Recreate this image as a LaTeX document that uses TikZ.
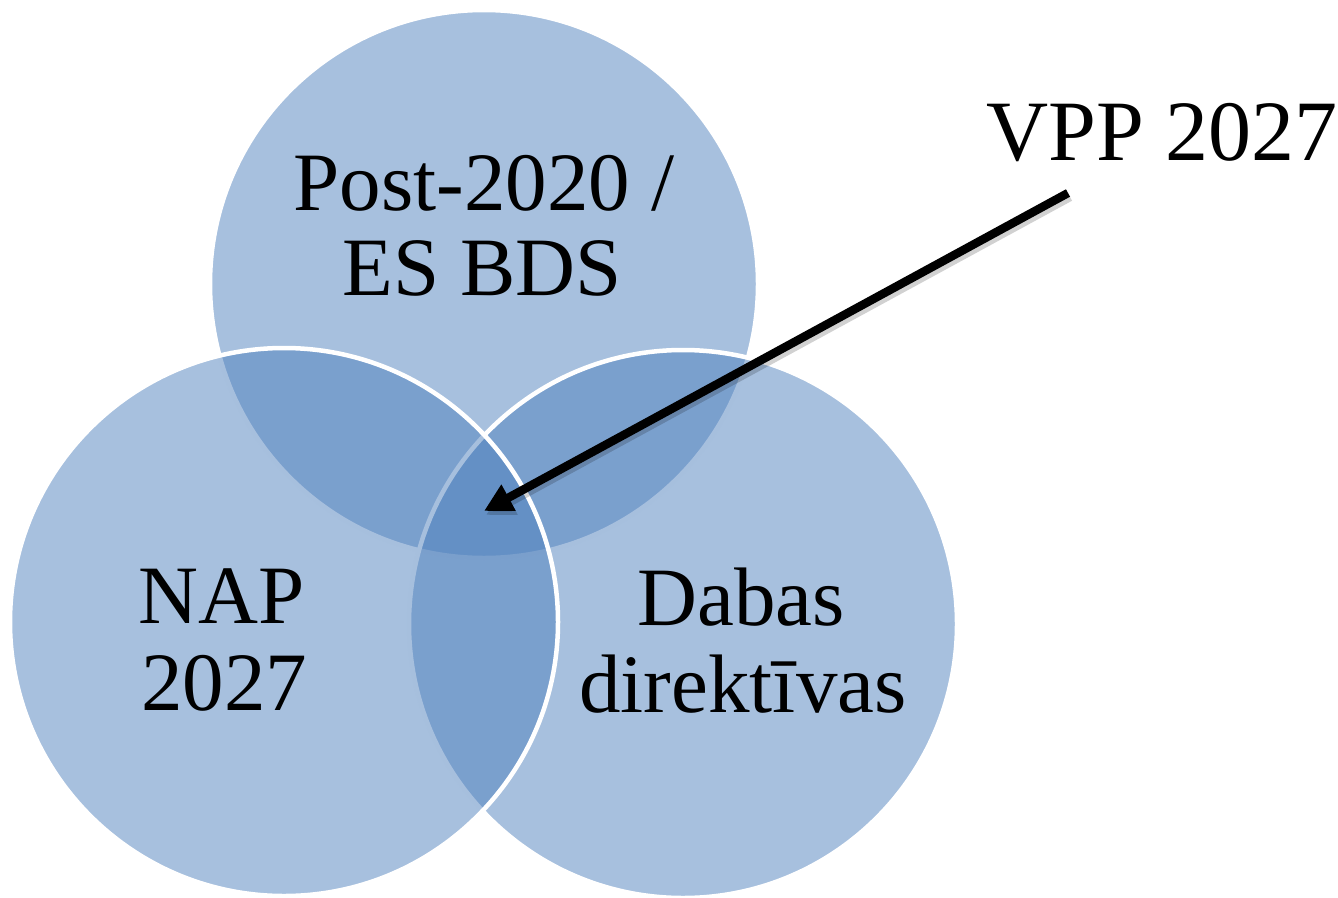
\documentclass[tikz,border=0pt]{standalone}
\usepackage{fontspec}
\setmainfont{Liberation Serif}
\usetikzlibrary{arrows.meta}
\definecolor{venn}{HTML}{4F81BD}
\begin{document}
\begin{tikzpicture}[x=1pt,y=-1pt,
  venncircle/.style={circle, minimum size=548pt, inner sep=0pt, fill=venn, fill opacity=0.5, draw=white, draw opacity=1, line width=4.5pt},
  lbl/.style={font=\fontsize{83}{86}\selectfont, anchor=base, inner sep=0pt, text opacity=1},
  pointer/.style={line width=8.5pt, -{Triangle[length=28pt,width=28pt]}}]
\useasboundingbox (0,0) rectangle (1338,897);
\node[venncircle] (top) at (484,284) {};
\node[venncircle] (right) at (683,624) {};
\node[venncircle] (left) at (284,622) {};
% labels
\node[lbl] (t1) at (484,210) {Post-2020 /};
\node[lbl] (t2) at (482,295) {ES BDS};
\node[lbl] (l1) at (222,623) {NAP};
\node[lbl] (l2) at (224,710) {2027};
\node[lbl] (r1) at (741,625) {Dabas};
\node[lbl, font=\fontsize{83}{86}\selectfont] (r2) at (743,712) {direktīvas};
\node[lbl, font=\fontsize{86}{90}\selectfont] (vpp) at (1162,160) {VPP 2027};
% arrow
\coordinate (tail) at (1068,193);
\coordinate (tip) at (484,511);
\draw[pointer, black, opacity=0.18] ([shift={(2,4)}]tail) -- ([shift={(2,4)}]tip);
\draw[pointer, black] (tail) -- (tip);
\end{tikzpicture}
\end{document}
